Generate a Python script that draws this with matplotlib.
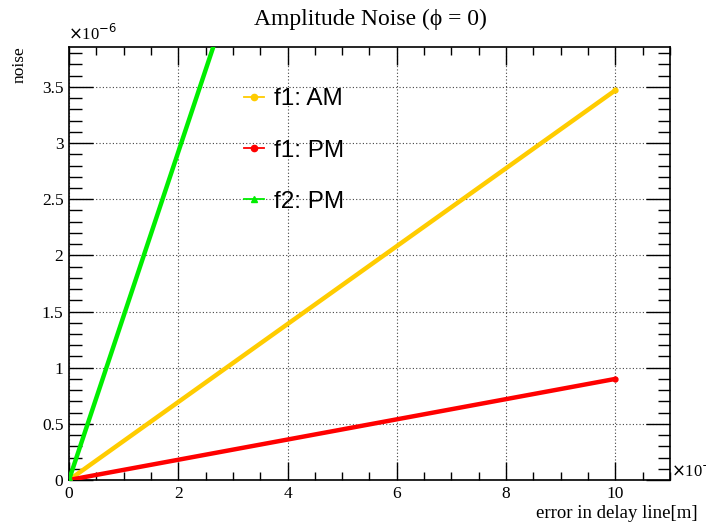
import matplotlib
matplotlib.use('Agg')
import matplotlib.pyplot as plt
from matplotlib.lines import Line2D
from matplotlib.ticker import MultipleLocator

# data (x in units of 1e-6 m, noise in units of 1e-6)
x_vals = [0.0, 10.0]
am_f1 = [0.0, 3.47]
pm_f1 = [0.0, 0.90]
pm_f2 = [0.0, 14.6]
labels = ['f1: AM', 'f1: PM', 'f2: PM']
colors = ['#ffcc00', '#ff0000', '#00ee00']
markers = ['o', 'o', '^']

serif = ['Liberation Serif', 'DejaVu Serif']
sans = ['Liberation Sans', 'DejaVu Sans']

fig = plt.figure(figsize=(7.06, 5.26), dpi=100)
ax = fig.add_axes([0.0977, 0.0875, 0.8513, 0.8231])

series = [am_f1, pm_f1, pm_f2]
for ys, c in zip(series, colors):
    ax.plot(x_vals, ys, color=c, lw=3.2, marker='o', ms=3.5,
            solid_capstyle='round', zorder=3)

ax.set_xlim(0, 11)
ax.set_ylim(0, 3.855)

ax.set_xticks([0, 2, 4, 6, 8, 10])
ax.set_xticklabels(['0', '2', '4', '6', '8', '10'], family=serif)
ax.set_yticks([0, 0.5, 1, 1.5, 2, 2.5, 3, 3.5])
ax.set_yticklabels(['0', '0.5', '1', '1.5', '2', '2.5', '3', '3.5'], family=serif)
ax.xaxis.set_minor_locator(MultipleLocator(0.5))
ax.yaxis.set_minor_locator(MultipleLocator(0.1))
ax.tick_params(which='both', direction='in', top=True, right=True, width=1)
ax.tick_params(axis='x', which='major', length=13)
ax.tick_params(axis='x', which='minor', length=6)
ax.tick_params(axis='y', which='major', length=17)
ax.tick_params(axis='y', which='minor', length=9)
ax.tick_params(axis='both', labelsize=12.5, pad=4)
ax.grid(True, which='major', linestyle=(0, (1, 2)), color='#444444', lw=0.8)
for s in ax.spines.values():
    s.set_linewidth(1.2)

# multiplier labels
fig.text(0.097, 0.917, r'$\times$10$^{-6}$', family=serif, fontsize=12, ha='left', va='bottom')
fig.text(0.951, 0.105, r'$\times$10$^{-6}$', family=serif, fontsize=12, ha='left', va='center')

fig.text(0.525, 0.963, 'Amplitude Noise (ϕ = 0)', family=serif, fontsize=17,
         ha='center', va='center')
fig.text(0.028, 0.912, 'noise', family=serif, fontsize=12.5, rotation=90, ha='center', va='top')
fig.text(0.988, 0.008, 'error in delay line[m]', family=serif, fontsize=13.5,
         ha='right', va='bottom')

# legend with thin ROOT-style markers
handles = [Line2D([], [], color=c, lw=1.3, marker=m, ms=4.5) for c, m in zip(colors, markers)]
ax.legend(handles=handles, labels=labels, loc='upper left', bbox_to_anchor=(0.255, 0.955),
          frameon=False, prop={'family': sans, 'size': 17.5},
          labelspacing=1.2, handlelength=0.8, handletextpad=0.45)

fig.savefig('out.png', dpi=100)
